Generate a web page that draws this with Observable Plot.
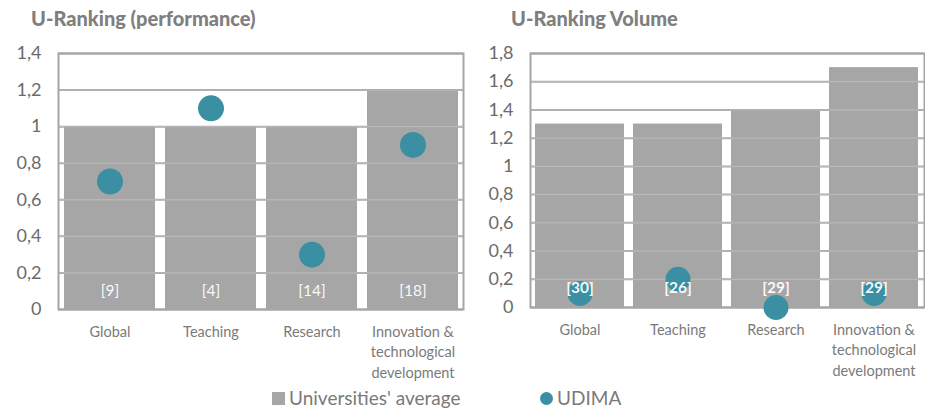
<!DOCTYPE html>
<html>
<head>
<meta charset="utf-8">
<script src="https://cdn.jsdelivr.net/npm/d3@7"></script>
<script src="https://cdn.jsdelivr.net/npm/@observablehq/plot@0.6"></script>
<style>
  html, body { margin: 0; padding: 0; background: #fff; }
  body { width: 925px; height: 410px; position: relative; overflow: hidden; font-family: Lato, "Open Sans", sans-serif; }
  .panel { position: absolute; top: 0; }
  .title { position: absolute; top: 6px; font-size: 20px; font-weight: 900; color: #7f7f7f; white-space: nowrap; }
  .legend { position: absolute; top: 387px; font-size: 19px; line-height: 22px; color: #7a7a7a; white-space: nowrap; display: flex; align-items: center; }
  .sw { display: inline-block; margin-right: 4px; }
</style>
</head>
<body>
<div id="left" class="panel" style="left:0px"></div>
<div id="right" class="panel" style="left:470px"></div>
<div class="title" style="left:31px">U-Ranking (performance)</div>
<div class="title" style="left:511px">U-Ranking Volume</div>
<div class="legend" style="left:272px"><span class="sw" style="width:13px;height:13px;background:#a6a6a6"></span>Universities' average</div>
<div class="legend" style="left:540px"><span class="sw" style="width:13px;height:13px;border-radius:50%;background:#3a8fa3"></span>UDIMA</div>
<script>
const categories = ["Global", "Teaching", "Research", "Innovation &\ntechnological\ndevelopment"];

// Left panel: U-Ranking (performance)
const perfAverage = [1, 1, 1, 1.2];
const perfUdima = [0.7, 1.1, 0.3, 0.9];
const perfRank = ["[9]", "[4]", "[14]", "[18]"];
const perfTicks = [0, 0.2, 0.4, 0.6, 0.8, 1, 1.2, 1.4];

// Right panel: U-Ranking Volume
const volAverage = [1.3, 1.3, 1.4, 1.7];
const volUdima = [0.1, 0.2, 0.0, 0.1];
const volRank = ["[30]", "[26]", "[29]", "[29]"];
const volTicks = [0, 0.2, 0.4, 0.6, 0.8, 1, 1.2, 1.4, 1.6, 1.8];

const GREY = "#a6a6a6";
const TEAL = "#3a8fa3";
const fmt = d => String(d).replace(".", ",");

function panel({avg, udima, rank, ticks, yMax, width, mLeft, mRight, mBottom, pInner, pOuter, r, labelY, labelWeight}) {
  const data = categories.map((c, i) => ({cat: c, avg: avg[i], udima: udima[i], rank: rank[i]}));
  return Plot.plot({
    width, height: 385,
    marginLeft: mLeft, marginRight: mRight, marginTop: 53, marginBottom: mBottom,
    style: {fontFamily: "Lato, 'Open Sans', sans-serif", background: "transparent", overflow: "visible"},
    x: {domain: categories, paddingInner: pInner, paddingOuter: pOuter, axis: null},
    y: {domain: [0, yMax], axis: null},
    marks: [
      Plot.ruleY(ticks, {stroke: "#ffffff", strokeWidth: 5}),
      Plot.ruleY(ticks, {stroke: GREY, strokeWidth: 2}),
      Plot.barY(data, {x: "cat", y: "avg", fill: GREY}),
      Plot.ruleY(ticks.filter(t => t > 0), {stroke: "#ffffff", strokeWidth: 1, strokeOpacity: 0.25}),
      Plot.frame({stroke: GREY, strokeWidth: 2}),
      Plot.axisY({ticks, tickFormat: fmt, tickSize: 0, tickPadding: 17, fontSize: 18, fill: "#6b6b6b", label: null}),
      Plot.dot(data, {x: "cat", y: "udima", r, fill: TEAL}),
      Plot.text(data, {x: "cat", y: () => labelY, text: "rank", fill: "#ffffff", fillOpacity: 0.95, fontSize: 15.5, fontWeight: labelWeight}),
      Plot.text(data, {x: "cat", text: "cat", frameAnchor: "bottom", dy: 13, lineAnchor: "top", lineHeight: 1.4, fontSize: 14.5, fill: "#7a7a7a"})
    ]
  });
}

document.getElementById("left").append(panel({
  avg: perfAverage, udima: perfUdima, rank: perfRank, ticks: perfTicks, yMax: 1.4,
  width: 470, mLeft: 58, mRight: 7, mBottom: 76, pInner: 0.1, pOuter: 0.04, r: 13, labelY: 0.1, labelWeight: "normal"
}));
document.getElementById("right").append(panel({
  avg: volAverage, udima: volUdima, rank: volRank, ticks: volTicks, yMax: 1.8,
  width: 455, mLeft: 60, mRight: 1, mBottom: 78, pInner: 0.09, pOuter: 0.05, r: 12.5, labelY: 0.14, labelWeight: "bold"
}));
</script>
</body>
</html>
